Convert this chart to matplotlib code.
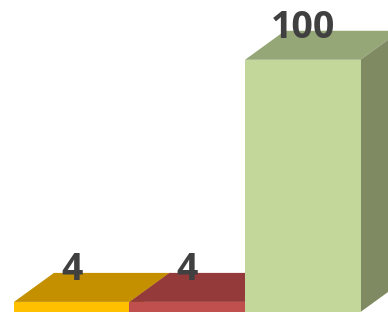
import matplotlib
matplotlib.use('Agg')
from matplotlib import pyplot as plt
from matplotlib.patches import Polygon

# data
categories = ['A', 'B', 'C']
values = [4, 4, 100]
labels = ['4', '4', '100']
front_colors = ['#FFC000', '#C0504D', '#C4D79B']
top_colors = ['#C49000', '#953A3A', '#95A677']
side_colors = ['#BF9000', '#903C3A', '#7F8A62']

# depth of the fake 3d box (data units)
dx = 0.346
dy = 11.5

fig = plt.figure(figsize=(3.88, 3.13), dpi=100)
ax = fig.add_axes([0, 0, 1, 1])

xs = list(range(len(values)))
for i, v in enumerate(values):
    ax.bar(xs[i], v, width=1, align='edge', color=front_colors[i],
           linewidth=0, zorder=2 + i * 3)
    top = [(xs[i], v), (xs[i] + 1, v), (xs[i] + 1 + dx, v + dy), (xs[i] + dx, v + dy)]
    ax.add_patch(Polygon(top, closed=True, facecolor=top_colors[i],
                         edgecolor='none', zorder=1 + i * 3))
    side = [(xs[i] + 1, 0), (xs[i] + 1 + dx, dy), (xs[i] + 1 + dx, v + dy), (xs[i] + 1, v)]
    ax.add_patch(Polygon(side, closed=True, facecolor=side_colors[i],
                         edgecolor='none', zorder=1 + i * 3))
    ax.text(xs[i] + 0.5, v + dy + 1.0, labels[i], ha='center', va='center',
            fontsize=27, fontweight='bold', color='#404040',
            family=['Open Sans', 'Liberation Sans', 'DejaVu Sans'], zorder=20)

ax.set_xlim(-0.121, 3.238)
ax.set_ylim(-0.4, 123.7)
ax.axis('off')

plt.savefig('out.png', dpi=100)
